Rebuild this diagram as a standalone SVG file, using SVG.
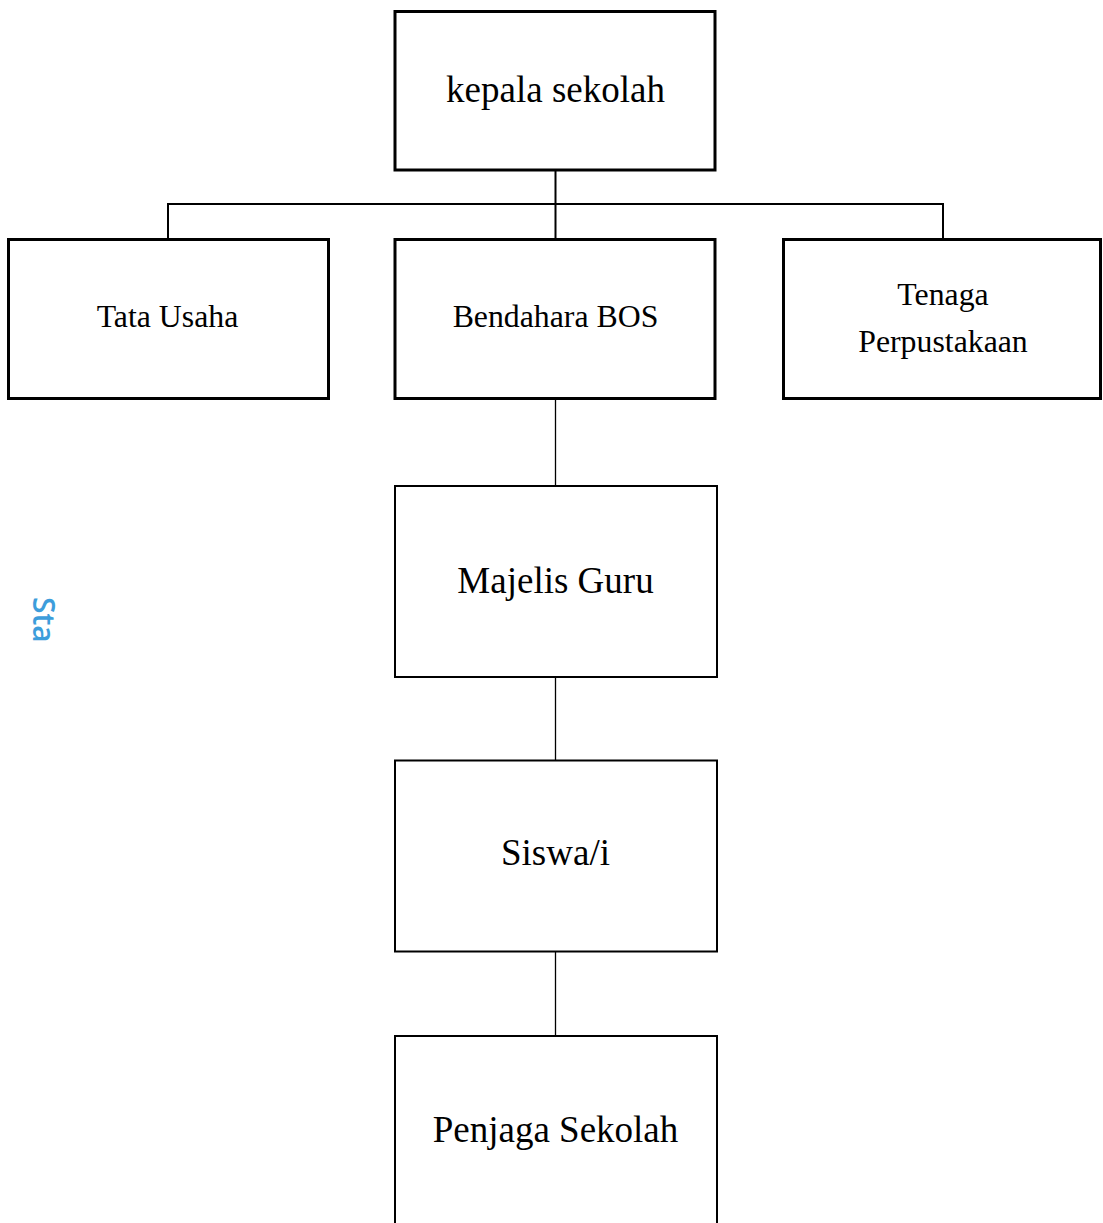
<svg xmlns="http://www.w3.org/2000/svg" width="1103" height="1223" viewBox="0 0 1103 1223">
<style>
.box{fill:#fff;stroke:#000;stroke-width:3}
.box2{fill:#fff;stroke:#000;stroke-width:2}
.t{font-family:"Liberation Serif","Times New Roman",serif;fill:#000;text-anchor:middle}
.big{font-size:37px}
.mid{font-size:31.8px}
.conn{fill:none;stroke:#000;stroke-width:2}
.thin{fill:none;stroke:#000;stroke-width:1.3}
</style>
<rect width="1103" height="1223" fill="#fff"/>
<g id="connectors">
<path class="conn" d="M555.5 171 V238 M168 204 H943 M168 203 V238 M943 203 V238"/>
<path class="thin" d="M555.5 400 V486 M555.5 678 V760 M555.5 952 V1036"/>
</g>
<g id="kepala">
<rect class="box" x="395" y="11.5" width="320" height="158.5"/>
<text class="t big" x="555.5" y="102">kepala sekolah</text>
</g>
<g id="tatausaha">
<rect class="box" x="8.5" y="239.5" width="320" height="159"/>
<text class="t mid" x="167.5" y="327">Tata Usaha</text>
</g>
<g id="bendahara">
<rect class="box" x="395" y="239.5" width="320" height="159"/>
<text class="t mid" x="555.5" y="327">Bendahara BOS</text>
</g>
<g id="perpustakaan">
<rect class="box" x="783.5" y="239.5" width="317" height="159"/>
<text class="t mid" x="943" y="305">Tenaga</text>
<text class="t mid" x="943" y="352">Perpustakaan</text>
</g>
<g id="majelis">
<rect class="box2" x="395" y="486" width="322" height="191"/>
<text class="t big" x="555.5" y="593">Majelis Guru</text>
</g>
<g id="siswa">
<rect class="box2" x="395" y="760.5" width="322" height="191"/>
<text class="t big" x="555.5" y="865">Siswa/i</text>
</g>
<g id="penjaga">
<rect class="box2" x="395" y="1036" width="322" height="200"/>
<text class="t big" x="555.5" y="1142">Penjaga Sekolah</text>
</g>
<text x="0" y="0" transform="translate(33 597) rotate(90)" font-family="'Open Sans','Noto Sans',sans-serif" font-size="30" font-weight="600" fill="#3d9ddb">Sta</text>
</svg>
